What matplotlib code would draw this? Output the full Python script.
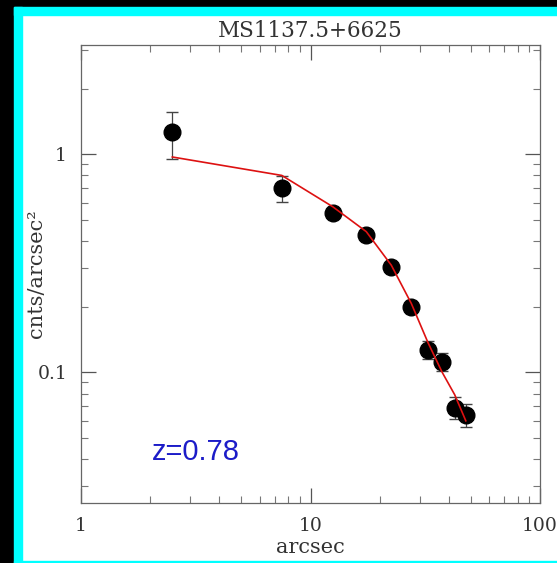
import matplotlib
matplotlib.use("Agg")
import matplotlib.pyplot as plt
import matplotlib.ticker as ticker
from matplotlib.patches import Rectangle

# radial surface brightness profile
radius = [2.5, 7.5, 12.5, 17.5, 22.5, 27.5, 32.5, 37.5, 42.5, 47.5]
surf_bright = [1.26, 0.70, 0.54, 0.425, 0.304, 0.20, 0.127, 0.112, 0.069, 0.064]
surf_err = [0.31, 0.096, 0.025, 0.02, 0.015, 0.012, 0.012, 0.011, 0.0078, 0.008]
model_fit = [0.972, 0.80, 0.575, 0.442, 0.31, 0.207, 0.137, 0.100, 0.079, 0.060]

cluster_name = "MS1137.5+6625"
redshift_text = "z=0.78"

W, H = 557, 563
fig = plt.figure(figsize=(W / 100, H / 100), dpi=100, facecolor="white")


def px_rect(x0, y0, x1, y1, color):
    # rectangle given in pixels measured from the top-left corner
    fig.patches.append(Rectangle((x0 / W, 1 - y1 / H), (x1 - x0) / W, (y1 - y0) / H,
                                 transform=fig.transFigure, color=color, zorder=-10))


px_rect(0, 0, 14, H, "black")
px_rect(0, 0, W, 7, "black")
px_rect(14, 7, 22, H, "cyan")
px_rect(14, 7, W, 15, "cyan")
px_rect(14, 560.5, W, 562.5, "cyan")

ax = fig.add_axes([81 / W, 1 - 503 / H, 459 / W, 458 / H])

ax.errorbar(radius, surf_bright, yerr=surf_err, fmt="none", ecolor="#444444",
            elinewidth=0.9, capsize=4, capthick=1.0, zorder=2)
ax.plot(radius, surf_bright, "o", color="black", markersize=12, zorder=3)
ax.plot(radius, model_fit, "-", color="#dd1111", linewidth=1.2, zorder=4)

ax.set_xscale("log")
ax.set_yscale("log")
ax.set_xlim(1, 100)
ax.set_ylim(0.0252, 3.17)

serif = "DejaVu Serif"
ax.xaxis.set_major_formatter(ticker.FuncFormatter(lambda v, p: f"{v:g}"))
ax.yaxis.set_major_formatter(ticker.FuncFormatter(lambda v, p: f"{v:g}"))
ax.xaxis.set_minor_formatter(ticker.NullFormatter())
ax.yaxis.set_minor_formatter(ticker.NullFormatter())
ax.xaxis.set_minor_locator(ticker.LogLocator(base=10, subs=range(2, 10)))
ax.yaxis.set_minor_locator(ticker.LogLocator(base=10, subs=range(2, 10)))

ax.tick_params(which="both", direction="in", top=True, right=True, color="#555555")
ax.tick_params(which="major", length=10.5, width=0.9, pad=10, labelsize=13.5,
               labelcolor="#333333")
ax.tick_params(which="minor", length=5, width=0.8, color="#777777")
for lab in ax.get_xticklabels() + ax.get_yticklabels():
    lab.set_family(serif)

for sp in ax.spines.values():
    sp.set_color("#666666")
    sp.set_linewidth(0.9)

ax.set_title(cluster_name, family=serif, fontsize=15.5, color="#333333", pad=6)
ax.set_xlabel("arcsec", family=serif, fontsize=15, color="#333333", labelpad=2)
ax.set_ylabel("cnts/arcsec²", family=serif, fontsize=15, color="#333333")
ax.yaxis.set_label_coords(-0.076, 0.5)

ax.text(0.154, 0.112, redshift_text, transform=ax.transAxes, ha="left", va="center",
        family="Liberation Sans", fontsize=21, color="#1c1cc8")

fig.savefig("out.png", dpi=100, facecolor=fig.get_facecolor())
